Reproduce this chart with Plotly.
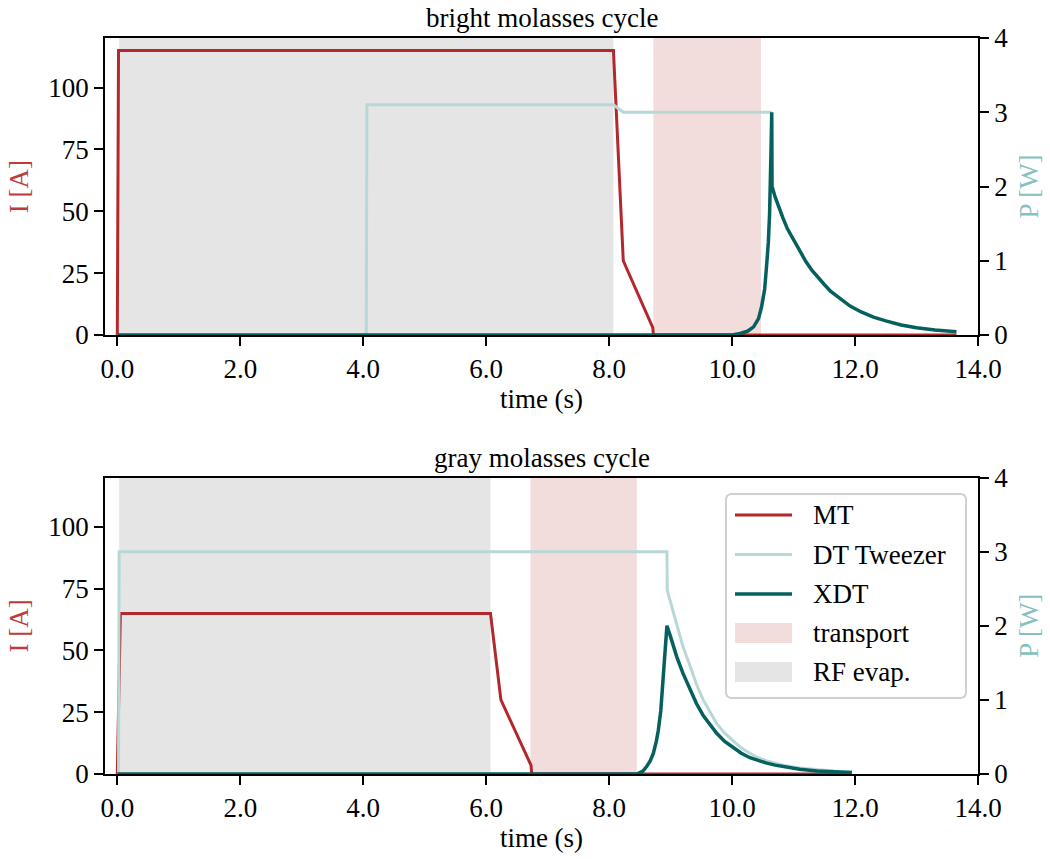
import plotly.graph_objects as go
from plotly.subplots import make_subplots

# ---------------- data ----------------
titles = ["bright molasses cycle", "gray molasses cycle"]

# bright molasses cycle
b_mt_t = [0.0, 0.02, 8.07, 8.23, 8.71, 8.72, 13.65]
b_mt_i = [0, 115, 115, 30, 3, 0, 0]

b_dt_t = [0.0, 4.05, 4.06, 8.07, 8.23, 10.645]
b_dt_p = [0, 0, 3.1, 3.1, 3.0, 3.0]

b_xdt_t = [0.0, 10.0, 10.13, 10.25, 10.35, 10.43, 10.48, 10.53, 10.56, 10.59, 10.61,
           10.625, 10.635, 10.645, 10.65, 10.7, 10.75, 10.83, 10.9, 11.0, 11.1, 11.2,
           11.3, 11.4, 11.5, 11.6, 11.75, 11.92, 12.1, 12.3, 12.5, 12.75, 13.0, 13.3,
           13.65]
b_xdt_p = [0, 0, 0.02, 0.05, 0.11, 0.22, 0.38, 0.62, 0.92, 1.25, 1.64,
           2.05, 2.54, 3.0, 2.0, 1.86, 1.74, 1.57, 1.43, 1.28, 1.13, 0.99,
           0.87, 0.77, 0.68, 0.59, 0.49, 0.39, 0.31, 0.24, 0.19, 0.135, 0.098, 0.067,
           0.045]

b_rf = (0.03, 8.07)
b_transport = (8.72, 10.47)

# gray molasses cycle
g_mt_t = [0.0, 0.05, 6.07, 6.24, 6.73, 6.74, 11.95]
g_mt_i = [0, 65, 65, 30, 3.5, 0, 0]

g_dt_t = [0.0, 0.02, 0.03, 8.94, 8.945, 9.02, 9.1, 9.2, 9.32, 9.42, 9.53, 9.64, 9.75,
          9.88, 10.02, 10.15, 10.29, 10.42, 10.55, 10.7, 10.83, 11.1, 11.38, 11.65, 11.95]
g_dt_p = [0, 0, 3.0, 3.0, 2.48, 2.25, 2.03, 1.72, 1.45, 1.21, 1.0, 0.83, 0.68,
          0.55, 0.44, 0.35, 0.28, 0.22, 0.18, 0.145, 0.12, 0.08, 0.055, 0.04, 0.025]

g_xdt_t = [0.0, 8.45, 8.55, 8.61, 8.67, 8.72, 8.77, 8.80, 8.84, 8.87, 8.91, 8.94,
           9.0, 9.05, 9.1, 9.2, 9.32, 9.42, 9.53, 9.64, 9.75, 9.88, 10.02, 10.15, 10.29,
           10.42, 10.55, 10.7, 10.83, 11.1, 11.38, 11.65, 11.95]
g_xdt_p = [0, 0, 0.04, 0.1, 0.18, 0.28, 0.45, 0.59, 0.85, 1.18, 1.67, 2.0,
           1.85, 1.71, 1.58, 1.36, 1.13, 0.95, 0.79, 0.66, 0.55, 0.44, 0.35, 0.28, 0.22,
           0.18, 0.15, 0.12, 0.10, 0.065, 0.04, 0.03, 0.02]

g_rf = (0.03, 6.07)
g_transport = (6.72, 8.45)

x_ticks = [0, 2, 4, 6, 8, 10, 12, 14]
i_ticks = [0, 25, 50, 75, 100]
p_ticks = [0, 1, 2, 3, 4]
x_range = [-0.2, 14.0]
i_range = [0, 120]
p_range = [0, 4]

legend_names = ["MT", "DT Tweezer", "XDT", "transport", "RF evap."]

# ---------------- style ----------------
C_MT = "#b2282c"
C_DT = "#b8d8d8"
C_XDT = "#05605e"
C_TR = "#f2dcdc"
C_RF = "#e5e5e5"
C_ILAB = "#c0393c"
C_PLAB = "#86c0c0"
FONT = "Liberation Serif"
FS = 27

W, H = 1050, 859
ML, MR, MT_, MB = 105, 72, 38, 85
PW, PH = W - ML - MR, H - MT_ - MB


def px_x(px):
    return (px - ML) / PW


def px_y(py):
    return (H - MB - py) / PH


fig = make_subplots(rows=2, cols=1, specs=[[{"secondary_y": True}], [{"secondary_y": True}]])

panels = [
    (b_mt_t, b_mt_i, b_dt_t, b_dt_p, b_xdt_t, b_xdt_p, b_rf, b_transport),
    (g_mt_t, g_mt_i, g_dt_t, g_dt_p, g_xdt_t, g_xdt_p, g_rf, g_transport),
]

for k, (mt_t, mt_i, dt_t, dt_p, xt, xp, rf, tr) in enumerate(panels):
    row = k + 1
    for (name, span, col) in [("transport", tr, C_TR), ("RF evap.", rf, C_RF)]:
        fig.add_trace(go.Scatter(
            x=[span[0], span[0], span[1], span[1], span[0]],
            y=[i_range[0], i_range[1], i_range[1], i_range[0], i_range[0]],
            mode="lines", fill="toself", fillcolor=col, line=dict(width=0, color=col),
            name=name, showlegend=False, hoverinfo="skip"),
            row=row, col=1, secondary_y=False)
    fig.add_trace(go.Scatter(x=mt_t, y=mt_i, mode="lines", line=dict(color=C_MT, width=3),
                             name="MT", showlegend=False),
                  row=row, col=1, secondary_y=False)
    fig.add_trace(go.Scatter(x=dt_t, y=dt_p, mode="lines", line=dict(color=C_DT, width=3),
                             name="DT Tweezer", showlegend=False),
                  row=row, col=1, secondary_y=True)
    fig.add_trace(go.Scatter(x=xt, y=xp, mode="lines", line=dict(color=C_XDT, width=3.5),
                             name="XDT", showlegend=False),
                  row=row, col=1, secondary_y=True)

top_dom = [px_y(335), 1.0]
bot_dom = [0.0, px_y(477.5)]

axis_common = dict(showgrid=False, zeroline=False, showline=True, linecolor="black",
                   linewidth=1.8, ticks="outside", ticklen=9, tickwidth=1.6,
                   tickcolor="black", tickfont=dict(family=FONT, size=FS, color="black"))

for k, dom in enumerate([top_dom, bot_dom]):
    xa = "xaxis" if k == 0 else "xaxis2"
    ya = "yaxis" if k == 0 else "yaxis3"
    ya2 = "yaxis2" if k == 0 else "yaxis4"
    fig.layout[xa].update(**axis_common, range=x_range, tickvals=x_ticks, tickformat=".1f",
                          mirror=True, domain=[0, 1],
                          title=dict(text="time (s)", font=dict(family=FONT, size=FS, color="black"),
                                     standoff=6))
    fig.layout[ya].update(**axis_common, range=i_range, tickvals=i_ticks, domain=dom,
                          title=dict(text="I [A]", font=dict(family=FONT, size=FS, color=C_ILAB),
                                     standoff=12))
    fig.layout[ya2].update(**axis_common, range=p_range, tickvals=p_ticks, side="right",
                           title=dict(text="P [W]", font=dict(family=FONT, size=FS, color=C_PLAB),
                                      standoff=12))

for k, dom in enumerate([top_dom, bot_dom]):
    fig.add_annotation(text=titles[k], xref="paper", yref="paper", x=0.5, y=dom[1],
                       xanchor="center", yanchor="bottom", yshift=3, showarrow=False,
                       font=dict(family=FONT, size=FS, color="black"))

# ---------------- legend (drawn in the lower panel, matplotlib style) ----------------
bx0, bx1, by0, by1, r = 726, 966, 494, 698, 6
path = (f"M{px_x(bx0 + r)},{px_y(by0)} L{px_x(bx1 - r)},{px_y(by0)} "
        f"Q{px_x(bx1)},{px_y(by0)} {px_x(bx1)},{px_y(by0 + r)} "
        f"L{px_x(bx1)},{px_y(by1 - r)} Q{px_x(bx1)},{px_y(by1)} {px_x(bx1 - r)},{px_y(by1)} "
        f"L{px_x(bx0 + r)},{px_y(by1)} Q{px_x(bx0)},{px_y(by1)} {px_x(bx0)},{px_y(by1 - r)} "
        f"L{px_x(bx0)},{px_y(by0 + r)} Q{px_x(bx0)},{px_y(by0)} {px_x(bx0 + r)},{px_y(by0)} Z")
fig.add_shape(type="path", path=path, xref="paper", yref="paper",
              fillcolor="rgba(255,255,255,0.8)", line=dict(color="#d0d0d0", width=2), layer="above")

row_y = [515, 554.5, 594, 633, 672]
sym_x0, sym_x1, txt_x = 735, 792, 811
styles = [("line", C_MT, 3), ("line", C_DT, 3), ("line", C_XDT, 3.5), ("patch", C_TR, 0), ("patch", C_RF, 0)]
for name, yy, (kind, col, lw) in zip(legend_names, row_y, styles):
    if kind == "line":
        fig.add_shape(type="line", xref="paper", yref="paper", x0=px_x(sym_x0), x1=px_x(sym_x1),
                      y0=px_y(yy), y1=px_y(yy), line=dict(color=col, width=lw), layer="above")
    else:
        fig.add_shape(type="rect", xref="paper", yref="paper", x0=px_x(sym_x0), x1=px_x(sym_x1),
                      y0=px_y(yy - 10), y1=px_y(yy + 10), fillcolor=col, line=dict(width=0),
                      layer="above")
    fig.add_annotation(text=name, xref="paper", yref="paper", x=px_x(txt_x), y=px_y(yy),
                       xanchor="left", yanchor="middle", showarrow=False,
                       font=dict(family=FONT, size=FS, color="black"))

fig.update_layout(
    width=W, height=H,
    margin=dict(l=ML, r=MR, t=MT_, b=MB),
    plot_bgcolor="white", paper_bgcolor="white",
    font=dict(family=FONT, size=FS, color="black"),
    showlegend=False,
)

fig.write_html("out.html")
